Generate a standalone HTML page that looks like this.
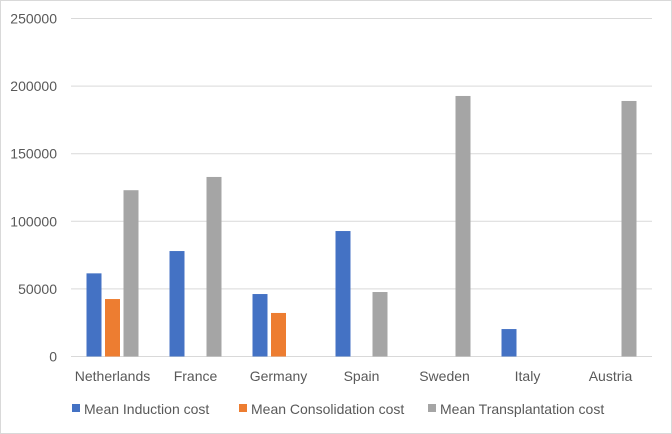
<!DOCTYPE html>
<html><head><meta charset="utf-8"><style>
body{margin:0;background:#fff}
svg{display:block;font-family:"Liberation Sans",sans-serif}
</style></head><body>
<svg id="c" width="672" height="434">
<rect x="0.5" y="0.5" width="671" height="433" fill="#fff" stroke="#d9d9d9"/>
</svg>
<script>
const categories=["Netherlands","France","Germany","Spain","Sweden","Italy","Austria"];
const induction=[61500,78000,46200,92800,null,20300,null];
const consolidation=[42500,null,32200,null,null,null,null];
const transplantation=[123000,132800,null,47700,192700,null,189000];
const yTicks=[0,50000,100000,150000,200000,250000];
const seriesNames=["Mean Induction cost","Mean Consolidation cost","Mean Transplantation cost"];
const colors=["#4472c4","#ed7d31","#a5a5a5"];
const NS="http://www.w3.org/2000/svg";
const svg=document.getElementById('c');
const x0=71,x1=652,yTop=18.5,yBot=356.5,yMax=250000;
const y=v=>yBot-(v/yMax)*(yBot-yTop);
const band=(x1-x0)/categories.length;
function mk(t,a){const e=document.createElementNS(NS,t);for(const k in a)e.setAttribute(k,a[k]);svg.appendChild(e);return e;}
yTicks.forEach(t=>{
 const l=mk('line',{x1:x0,x2:x1,y1:y(t),y2:y(t),stroke:'#d9d9d9','stroke-width':1});
 
 
 const tx=mk('text',{x:57,y:y(t)+5,'text-anchor':'end','font-size':14,fill:'#595959'});
 tx.textContent=t;
 
 
});
const series=[induction,consolidation,transplantation];
const bw=15,pitch=18.5;
categories.forEach((c,i)=>{
 const cx=x0+band*(i+0.5);
 series.forEach((s,j)=>{
  const v=s[i]; if(v==null)return;
  const bx=cx+(j-1)*pitch-bw/2;
  const r=mk('rect',{x:bx,y:y(v),width:bw,height:yBot-y(v),fill:colors[j]});
  
  
 });
 const t=mk('text',{x:cx,y:381,'text-anchor':'middle','font-size':14,fill:'#595959'});
 t.textContent=c;
 
 
});
const lx=[72,239,428];
seriesNames.forEach((n,j)=>{
 const r=mk('rect',{x:lx[j],y:404,width:8,height:8,fill:colors[j]});
 
 
 const t=mk('text',{x:lx[j]+12,y:414,'font-size':14,fill:'#595959'});
 t.textContent=n;
 
 
});
</script>
</body></html>
